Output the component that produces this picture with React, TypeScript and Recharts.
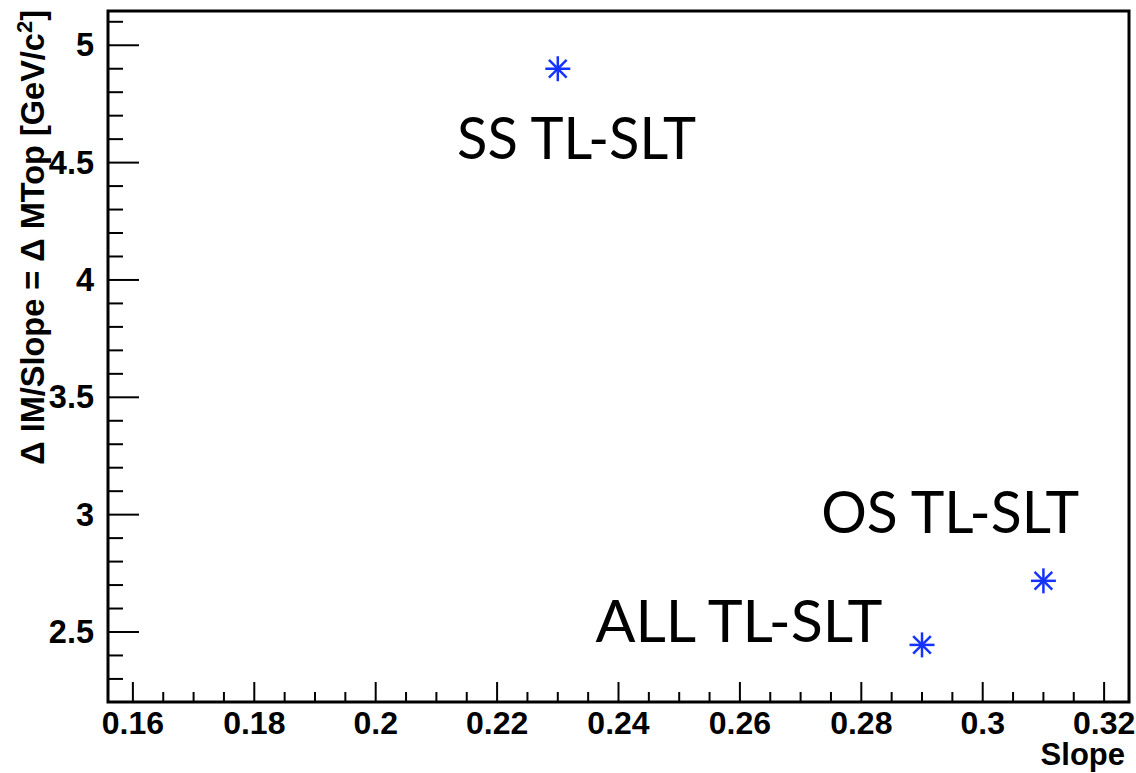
import { ScatterChart, Scatter, XAxis, YAxis, ReferenceArea } from "recharts";

// measured points
const slopes = [0.23, 0.29, 0.31];
const deltaMTop = [4.9, 2.445, 2.718];

// text annotations (data coords of left edge / baseline)
const tagNames = ["SS TL-SLT", "ALL TL-SLT", "OS TL-SLT"];
const tagX = [0.2134, 0.2362, 0.2734];
const tagY = [4.516, 2.457, 2.922];
const tagWidths = [239, 287, 258];

const xDomain = [0.1559, 0.3241];
const yDomain = [2.2017, 5.146];

const xMajor = [0.16, 0.18, 0.2, 0.22, 0.24, 0.26, 0.28, 0.3, 0.32];
const xTickLabels = ["0.16", "0.18", "0.2", "0.22", "0.24", "0.26", "0.28", "0.3", "0.32"];
const xTicks = [
  0.16, 0.165, 0.17, 0.175, 0.18, 0.185, 0.19, 0.195, 0.2, 0.205, 0.21, 0.215,
  0.22, 0.225, 0.23, 0.235, 0.24, 0.245, 0.25, 0.255, 0.26, 0.265, 0.27, 0.275,
  0.28, 0.285, 0.29, 0.295, 0.3, 0.305, 0.31, 0.315, 0.32,
];

const yMajor = [2.5, 3, 3.5, 4, 4.5, 5];
const yTickLabels = ["2.5", "3", "3.5", "4", "4.5", "5"];
const yTicks = [
  2.3, 2.4, 2.5, 2.6, 2.7, 2.8, 2.9, 3, 3.1, 3.2, 3.3, 3.4, 3.5, 3.6, 3.7, 3.8,
  3.9, 4, 4.1, 4.2, 4.3, 4.4, 4.5, 4.6, 4.7, 4.8, 4.9, 5, 5.1,
];

const points = slopes.map((x, i) => ({ x, y: deltaMTop[i] }));
const tags = tagNames.map((name, i) => ({ x: tagX[i], y: tagY[i], name, w: tagWidths[i] }));

const AXIS_FONT = "'Liberation Sans', Arial, Helvetica, sans-serif";
const BLUE = "#1533ff";

const near = (arr: number[], v: number) => arr.findIndex((a) => Math.abs(a - v) < 1e-6);

const XTick = (props: any) => {
  const { x, y, payload } = props;
  const idx = near(xMajor, payload.value);
  const major = idx >= 0;
  return (
    <g>
      <line x1={x} x2={x} y1={y} y2={y - (major ? 20 : 10)} stroke="#000" strokeWidth={2} />
      {major && (
        <text x={x} y={y + 32} textAnchor="middle" fontFamily={AXIS_FONT} fontWeight="bold" fontSize={32} fill="#000">
          {xTickLabels[idx]}
        </text>
      )}
    </g>
  );
};

const YTick = (props: any) => {
  const { x, y, payload } = props;
  const idx = near(yMajor, payload.value);
  const major = idx >= 0;
  return (
    <g>
      <line x1={x} x2={x + (major ? 31 : 15)} y1={y} y2={y} stroke="#000" strokeWidth={2} />
      {major && (
        <text x={x - 14} y={y + 11} textAnchor="end" fontFamily={AXIS_FONT} fontWeight="bold" fontSize={32.5} fill="#000">
          {yTickLabels[idx]}
        </text>
      )}
    </g>
  );
};

const YTitle = (props: any) => {
  const vb = props.viewBox || { x: 0, y: 11 };
  const px = vb.x + 44;
  const py = vb.y - 1;
  return (
    <text
      x={px}
      y={py}
      transform={`rotate(-90 ${px} ${py})`}
      textAnchor="end"
      fontFamily={AXIS_FONT}
      fontWeight="bold"
      fontSize={32.5}
      fill="#000"
    >
      Δ IM/Slope = Δ MTop [GeV/c
      <tspan dy={-12} fontSize={22}>2</tspan>
      <tspan dy={12}>]</tspan>
    </text>
  );
};

const XTitle = (props: any) => {
  const vb = props.viewBox || { x: 108, y: 702, width: 1021 };
  return (
    <text x={vb.x + vb.width - 4} y={vb.y + 63} textAnchor="end" fontFamily={AXIS_FONT} fontWeight="bold" fontSize={31} fill="#000">
      Slope
    </text>
  );
};

const Star = (props: any) => {
  const { cx, cy } = props;
  const r = 12.5;
  const d = r * 0.7071;
  return (
    <g stroke={BLUE} strokeWidth={2.5}>
      <line x1={cx - r} x2={cx + r} y1={cy} y2={cy} />
      <line x1={cx} x2={cx} y1={cy - r} y2={cy + r} />
      <line x1={cx - d} x2={cx + d} y1={cy - d} y2={cy + d} />
      <line x1={cx - d} x2={cx + d} y1={cy + d} y2={cy - d} />
    </g>
  );
};

const Tag = (props: any) => {
  const { cx, cy, payload } = props;
  return (
    <text
      x={cx}
      y={cy}
      fontFamily="Lato, 'Open Sans', sans-serif"
      fontSize={59}
      textLength={payload.w}
      lengthAdjust="spacingAndGlyphs"
      fill="#000"
    >
      {payload.name}
    </text>
  );
};

export default function App() {
  return (
    <div style={{ width: 1136, height: 773, background: "#fff" }}>
      <style>{`body{margin:0}`}</style>
      <ScatterChart width={1136} height={773} margin={{ top: 11, right: 7, bottom: 0, left: 0 }}>
        <XAxis
          type="number"
          dataKey="x"
          domain={xDomain}
          allowDataOverflow
          ticks={xTicks}
          interval={0}
          tick={<XTick />}
          tickSize={0}
          tickMargin={0}
          tickLine={false}
          axisLine={false}
          height={71}
          label={<XTitle />}
        />
        <YAxis
          type="number"
          dataKey="y"
          domain={yDomain}
          allowDataOverflow
          ticks={yTicks}
          interval={0}
          tick={<YTick />}
          tickSize={0}
          tickMargin={0}
          tickLine={false}
          axisLine={false}
          width={108}
          label={<YTitle />}
        />
        <ReferenceArea
          x1={xDomain[0]}
          x2={xDomain[1]}
          y1={yDomain[0]}
          y2={yDomain[1]}
          fill="none"
          stroke="#000"
          strokeWidth={3}
          ifOverflow="visible"
        />
        <Scatter data={tags} shape={<Tag />} isAnimationActive={false} />
        <Scatter data={points} shape={<Star />} isAnimationActive={false} />
      </ScatterChart>
    </div>
  );
}
